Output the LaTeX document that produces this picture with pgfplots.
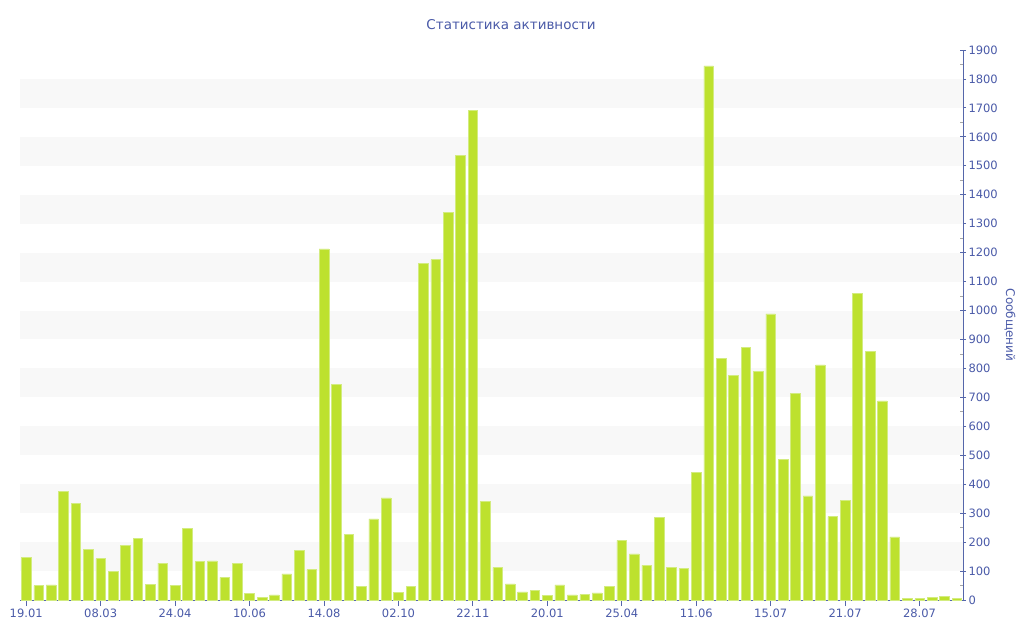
\documentclass[border=0pt]{standalone}
\usepackage{pgfplots}
\pgfplotsset{compat=1.18}
\usepackage{fontspec}
\setmainfont{DejaVu Sans}
\definecolor{barc}{HTML}{BDE12E}
\definecolor{bared}{HTML}{D3EC80}
\definecolor{txt}{HTML}{4A5AA8}
\definecolor{axl}{HTML}{5566AA}
\definecolor{band}{HTML}{F8F8F8}
\begin{document}
\begin{tikzpicture}
\useasboundingbox (-20pt,-40pt) rectangle (1004pt,600pt);
\begin{axis}[
  at={(0,0)}, anchor=south west,
  scale only axis, width=943pt, height=550pt,
  xmin=-0.5, xmax=75.5, ymin=0, ymax=1900,
  axis x line*=bottom, axis y line*=right,
  axis line style={axl, line width=0.9pt},
  ytick={0,100,...,1900},
  minor ytick={50,150,...,1850},
  xtick={0,6,...,72},
  xticklabels={19.01,08.03,24.04,10.06,14.08,02.10,22.11,20.01,25.04,11.06,15.07,21.07,28.07},
  xtick align=outside, ytick align=center,
  major tick length=6pt, minor tick length=3pt,
  tick style={axl, line width=0.8pt},
  minor tick style={black!35, line width=0.8pt, xshift=-1.5pt},
  /pgf/number format/assume math mode=true,
  /pgf/number format/1000 sep={},
  ticklabel style={font=\fontsize{11.5}{13}\selectfont, text=txt},
  xticklabel style={yshift=1pt},
  yticklabel style={xshift=-1pt},
  ylabel={Сообщений},
  ylabel style={at={(axis description cs:1.0498,0.5)}, anchor=center, rotate=180, font=\fontsize{12}{14}\selectfont, text=txt},
  title={Статистика активности},
  title style={at={(axis description cs:0.5207,1)}, anchor=center, yshift=19pt, font=\fontsize{13.5}{16}\selectfont, text=txt},
  clip=false,
]
\fill[band] (axis cs:-0.5,100) rectangle (axis cs:75.5,200);
\fill[band] (axis cs:-0.5,300) rectangle (axis cs:75.5,400);
\fill[band] (axis cs:-0.5,500) rectangle (axis cs:75.5,600);
\fill[band] (axis cs:-0.5,700) rectangle (axis cs:75.5,800);
\fill[band] (axis cs:-0.5,900) rectangle (axis cs:75.5,1000);
\fill[band] (axis cs:-0.5,1100) rectangle (axis cs:75.5,1200);
\fill[band] (axis cs:-0.5,1300) rectangle (axis cs:75.5,1400);
\fill[band] (axis cs:-0.5,1500) rectangle (axis cs:75.5,1600);
\fill[band] (axis cs:-0.5,1700) rectangle (axis cs:75.5,1800);
\addplot[ybar, bar width=9.6pt, fill=barc, draw=bared, line width=0.5pt] coordinates {
(0,147) (1,50) (2,52) (3,374) (4,335) (5,175) (6,143) (7,100) (8,190) (9,213)
(10,53) (11,127) (12,51) (13,248) (14,133) (15,135) (16,78) (17,127) (18,24) (19,9)
(20,18) (21,90) (22,171) (23,105) (24,1213) (25,744) (26,227) (27,48) (28,280) (29,353)
(30,27) (31,48) (32,1162) (33,1176) (34,1339) (35,1536) (36,1692) (37,341) (38,113) (39,56)
(40,28) (41,34) (42,16) (43,52) (44,18) (45,19) (46,25) (47,46) (48,206) (49,159)
(50,120) (51,286) (52,112) (53,110) (54,440) (55,1845) (56,836) (57,777) (58,872) (59,791)
(60,988) (61,485) (62,713) (63,360) (64,812) (65,288) (66,344) (67,1058) (68,858) (69,688)
(70,218) (71,5) (72,5) (73,9) (74,13) (75,5)
};
\end{axis}
\end{tikzpicture}
\end{document}
